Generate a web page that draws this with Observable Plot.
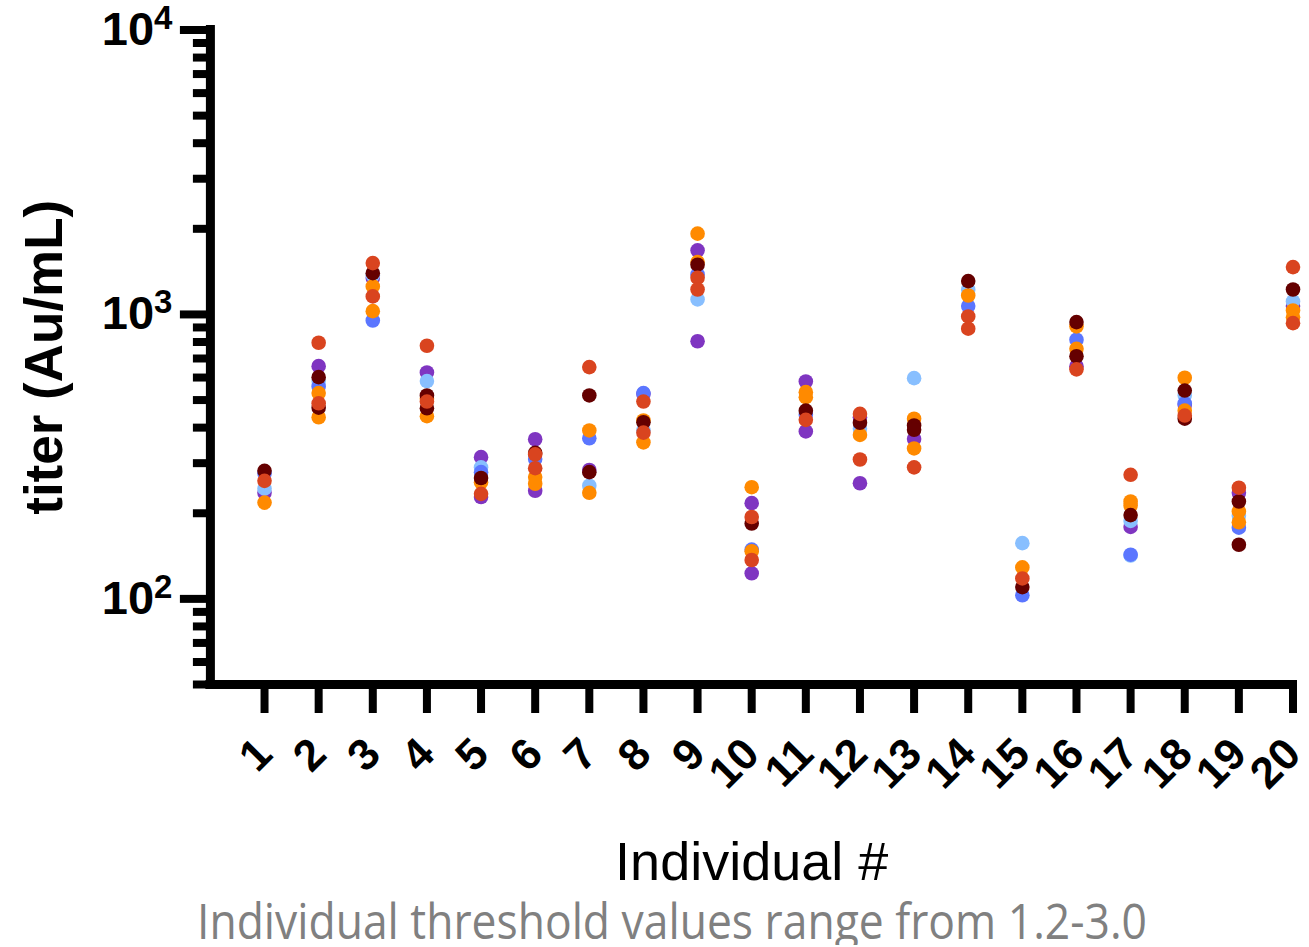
<!DOCTYPE html>
<html>
<head>
<meta charset="utf-8">
<script src="https://cdn.jsdelivr.net/npm/d3@7"></script>
<script src="https://cdn.jsdelivr.net/npm/@observablehq/plot@0.6"></script>
<style>
  html, body { margin: 0; padding: 0; background: #fff; }
  #chart svg { display: block; }
  #caption { font-family: "Open Sans", "Noto Sans", sans-serif; font-size: 49px; line-height: 49px;
             color: #808080; padding-left: 197px; white-space: nowrap; margin-top: 1px; }
  #caption span { display: inline-block; transform-origin: left center; }
</style>
</head>
<body>
<div id="chart"></div>
<div id="caption"><span id="cap">Individual threshold values range from 1.2-3.0</span></div>
<script>
// ---- data ----
const individuals = [1,2,3,4,5,6,7,8,9,10,11,12,13,14,15,16,17,18,19,20];
const majorTicks = [100, 1000, 10000];
const minorTicks = [50,60,70,80,90,200,300,400,500,600,700,800,900,2000,3000,4000,5000,6000,7000,8000,9000];
const seriesNames  = ["series P", "series LB", "series B", "series O", "series M", "series R"];
const seriesColors = ["#7F35C1", "#88BFFF", "#5B76FF", "#FF8A00", "#650000", "#D9441F"];

// values per individual (index 0 = individual 1)
const purple = [[236],[658],[1342],[625],[315,228],[364,240],[284],[526],[1680,805],[217,123],
                [581,388],[435,255],[365],[],[],[658],[179],[481],[236],[1070]];
const lightblue = [[244],[583],[1371],[583],[290],[],[250],[391],[1129],[],
                   [],[396],[597],[1222],[157],[],[188,142],[519],[196],[1111]];
const blue = [[276],[558],[952],[],[279],[310],[367],[529],[1382],[149],
              [444],[],[],[1070],[103],[815],[143],[487],[178],[]];
const orange = [[218],[529,435],[1255,1027],[505,439],[257],[268,254],[391,236],[424,355],[1923,1528],[247,147],
                [533,512],[377],[430,338],[1166],[129],[908,757],[220,213],[599,459],[203,186],[1033,978]];
const maroon = [[282],[602,470],[1397],[519,468],[266],[326],[519,279],[418],[1496],[184],
                [459],[416],[407,393],[1310],[110],[940,713],[197],[540,430],[220,155],[1224]];
const red = [[260],[795,487],[1515,1157],[776,494],[234],[322,288],[653],[494,384],[1346,1224],[194,137],
             [426],[447,309],[290],[984,891],[118],[641],[273],[441],[246],[1467,932]];

const seriesValues = [purple, lightblue, blue, orange, maroon, red];
const points = [];
seriesValues.forEach((arr, si) => {
  arr.forEach((vals, i) => vals.forEach(v => points.push({ind: individuals[i], value: v, series: seriesNames[si]})));
});

const chart = Plot.plot({
  width: 1309,
  height: 895,
  marginLeft: 209.9,
  marginRight: 16.5,
  marginTop: 29.5,
  marginBottom: 211,
  x: {domain: [0, 20]},
  y: {type: "log", domain: [50, 10000]},
  color: {type: "ordinal", domain: seriesNames, range: seriesColors},
  style: {fontFamily: "'Liberation Sans', Arial, sans-serif", color: "black", background: "white", overflow: "visible"},
  marks: [
    Plot.axisY(minorTicks, {tickSize: 17, strokeWidth: 8, tickFormat: () => "", label: null}),
    Plot.axisY(majorTicks, {tickSize: 30, strokeWidth: 8, tickPadding: 8, fontSize: 47, fontWeight: "bold",
                            tickFormat: d => "10^" + Math.round(Math.log10(d)), label: null}),
    Plot.axisX(individuals, {tickSize: 29, strokeWidth: 8, tickRotate: -45, tickPadding: 33, fontSize: 44,
                             fontWeight: "bold", tickFormat: d => String(d), label: null}),
    Plot.ruleX([0], {strokeWidth: 9, strokeLinecap: "square"}),
    Plot.ruleY([50], {strokeWidth: 9, strokeLinecap: "square"}),
    Plot.dot(points, {x: "ind", y: "value", fill: "series", r: 7.3}),
    Plot.text(["titer (Au/mL)"], {frameAnchor: "left", textAnchor: "middle", lineAnchor: "middle", rotate: -90,
                                  dx: -165, fontSize: 53, fontWeight: "bold"}),
    Plot.text(["Individual #"], {frameAnchor: "bottom", textAnchor: "middle", lineAnchor: "middle", dy: 178, fontSize: 54})
  ]
});
document.getElementById("chart").appendChild(chart);

// superscript exponents on the y tick labels
chart.querySelectorAll('g[aria-label="y-axis tick label"] text').forEach(t => {
  const s = t.textContent;
  const m = s.match(/^10\^(\d+)$/);
  if (m) {
    t.textContent = "";
    t.appendChild(document.createTextNode("10"));
    const ts = document.createElementNS("http://www.w3.org/2000/svg", "tspan");
    ts.setAttribute("font-size", "33");
    ts.setAttribute("dy", "-16");
    ts.textContent = m[1];
    t.appendChild(ts);
  }
});

// caption width fit
const cap = document.getElementById("cap");
const w = cap.getBoundingClientRect().width;
cap.style.transform = `scaleX(${950 / w})`;
</script>
</body>
</html>
